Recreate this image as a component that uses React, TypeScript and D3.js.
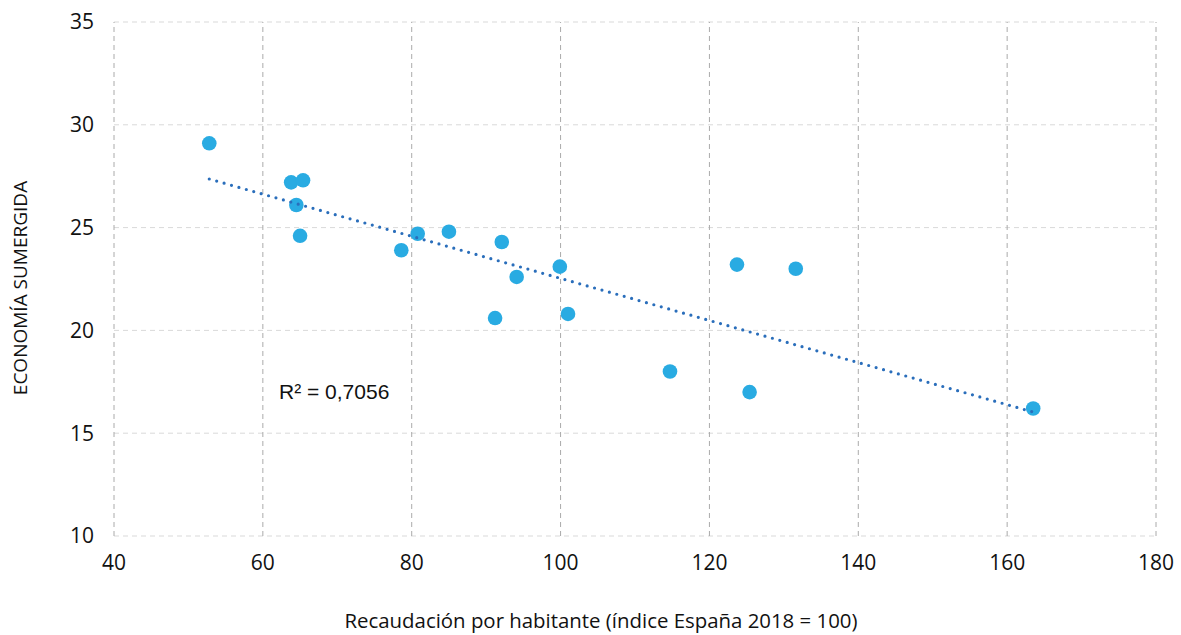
import React from "react";
import * as d3 from "d3";

// Recaudación por habitante (índice) vs. economía sumergida (%)
const recaudacion = [52.8, 63.8, 65.4, 64.5, 65.0, 78.6, 80.8, 85.0, 91.2, 92.1, 94.1, 99.9, 101.0, 114.7, 123.7, 125.4, 131.6, 163.5];
const sumergida = [29.1, 27.2, 27.3, 26.1, 24.6, 23.9, 24.7, 24.8, 20.6, 24.3, 22.6, 23.1, 20.8, 18.0, 23.2, 17.0, 23.0, 16.2];
const xTicks = [40, 60, 80, 100, 120, 140, 160, 180];
const yTicks = [10, 15, 20, 25, 30, 35];
const r2Label = "R² = 0,7056";
const xTitle = "Recaudación por habitante (índice España 2018 = 100)";
const yTitle = "ECONOMÍA SUMERGIDA";

const W = 1181;
const H = 635;
const M = { left: 114, right: 25, top: 22, bottom: 99 };
const FONT = "'Open Sans', sans-serif";

export default function App() {
  const x = d3.scaleLinear().domain([40, 180]).range([M.left, W - M.right]);
  const y = d3.scaleLinear().domain([10, 35]).range([H - M.bottom, M.top]);

  // least-squares trend line
  const mx = d3.mean(recaudacion)!;
  const my = d3.mean(sumergida)!;
  let sxy = 0;
  let sxx = 0;
  recaudacion.forEach((v, i) => {
    sxy += (v - mx) * (sumergida[i] - my);
    sxx += (v - mx) * (v - mx);
  });
  const slope = sxy / sxx;
  const icpt = my - slope * mx;
  const x0 = d3.min(recaudacion)!;
  const x1 = d3.max(recaudacion)!;
  const trend = d3.line<number>().x((d) => x(d)).y((d) => y(icpt + slope * d))([x0, x1]);

  return (
    <svg width={W} height={H} style={{ position: "absolute", left: 0, top: 0, background: "#fff" }}>
      {yTicks.map((t) => (
        <line key={"h" + t} x1={x(40)} x2={x(180)} y1={y(t)} y2={y(t)} stroke="#d9d9d9" strokeWidth={1} strokeDasharray="5 4" />
      ))}
      {xTicks.map((t) => (
        <line key={"v" + t} x1={x(t)} x2={x(t)} y1={y(10)} y2={y(35)} stroke="#aaaaaa" strokeWidth={1} strokeDasharray="5 4" />
      ))}
      {yTicks.map((t) => (
        <text key={"yl" + t} x={94} y={y(t)} dy="0.35em" textAnchor="end" fontFamily={FONT} fontSize={21} fill="#111">
          {t}
        </text>
      ))}
      {xTicks.map((t) => (
        <text key={"xl" + t} x={x(t)} y={563} dy="0.35em" textAnchor="middle" fontFamily={FONT} fontSize={21} fill="#111">
          {t}
        </text>
      ))}
      {recaudacion.map((v, i) => (
        <circle key={"p" + i} cx={x(v)} cy={y(sumergida[i])} r={7.3} fill="#29abe2" />
      ))}
      <path d={trend ?? ""} fill="none" stroke="#2a6ebb" strokeWidth={3.2} strokeLinecap="round" strokeDasharray="0 7.7" />
      <text x={279} y={399} fontFamily="'Liberation Sans', Arial, sans-serif" fontSize={21} fill="#111">
        {r2Label}
      </text>
      <text x={601} y={621} dy="0.35em" textAnchor="middle" fontFamily={FONT} fontSize={20.4} fill="#111">
        {xTitle}
      </text>
      <text transform={`translate(20,${288}) rotate(-90)`} dy="0.35em" textAnchor="middle" fontFamily={FONT} fontSize={19} fill="#111">
        {yTitle}
      </text>
    </svg>
  );
}
